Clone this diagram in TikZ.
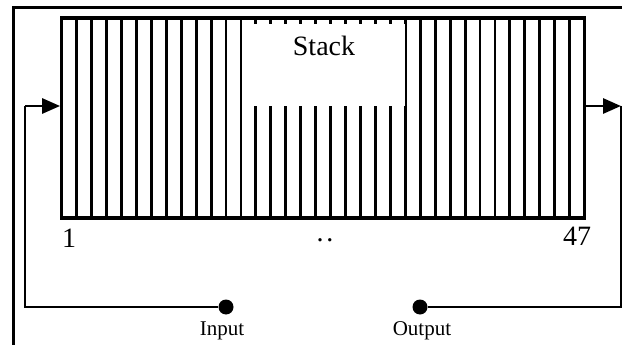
\documentclass[tikz,border=0pt]{standalone}
\usepackage{fontspec}
\setmainfont{Liberation Serif}
\usetikzlibrary{arrows.meta}

\begin{document}
\begin{tikzpicture}[x=1pt, y=-1pt,
    cell/.style={line width=2.9pt},
    conn/.style={line width=2.9pt},
    tip/.style={-{Triangle[length=18pt, width=15pt]}},
    dot/.style={circle, fill=black, inner sep=0pt, minimum size=15pt},
    big/.style={font=\fontsize{28}{28}\selectfont},
    small/.style={font=\fontsize{21}{21}\selectfont}]
    \useasboundingbox (0,0) rectangle (627,345);

    % frame
    \path[draw, line width=3pt] (13,345) -- (13,8) -- (622,8);

    % cells
    \foreach \i in {0,...,35}
      \draw[cell] (61.7+14.94*\i,18) -- (61.7+14.94*\i,218);

    % stack window
    \path[fill=white] (243.6,24) rectangle (405,106);
    \node[big] (stack) at (324,46) {Stack};

    % block outline
    \node[draw, line width=3.2pt, inner sep=0pt, minimum width=523pt, minimum height=200pt]
      (blk) at (323.2,118) {};

    % labels
    \node[big] (first) at (69,238) {1};
    \node[big] (last) at (577,236) {47};
    \node[big] (dots) at (325,240) {.\kern3pt.};

    % input and output
    \node[dot] (input) at (226,307) {};
    \node[dot] (output) at (420,307) {};
    \node[small] (inlbl) at (222,331) {Input};
    \node[small] (outlbl) at (422,331) {Output};

    % loop back
    \coordinate (lc) at (25,106);
    \coordinate (rc) at (621,106);
    \draw[conn] (input) -| (lc);
    \draw[conn, tip] (lc) -- (lc -| blk.west);
    \draw[conn, tip] (rc -| blk.east) -- (rc);
    \draw[conn] (rc) |- (output);

\end{tikzpicture}
\end{document}
